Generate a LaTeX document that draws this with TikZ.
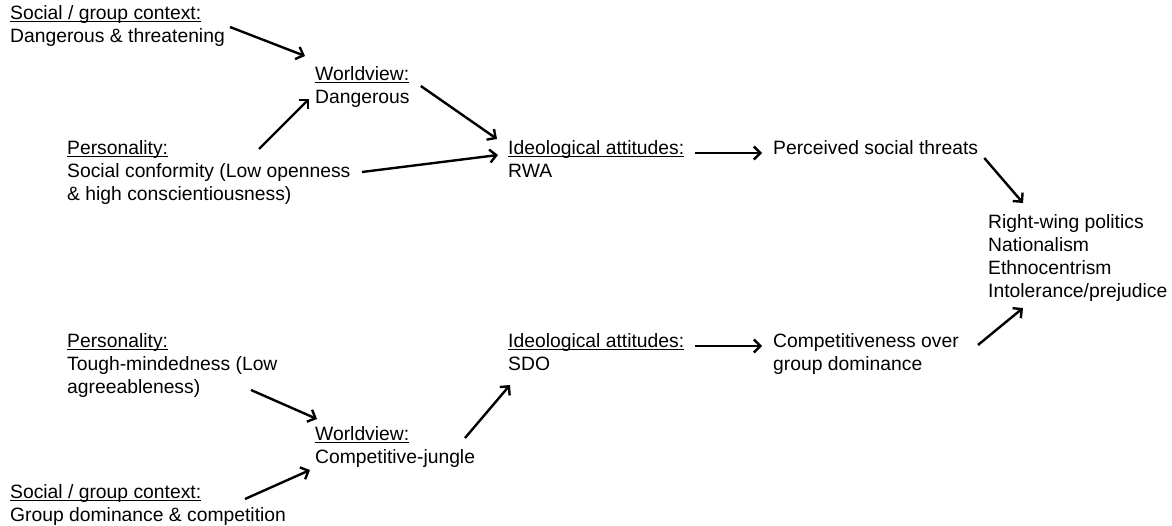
\documentclass[tikz,border=0pt]{standalone}
\usepackage{fontspec}
\setmainfont{Liberation Sans}
\newcommand\undl[1]{\setbox0=\hbox{#1}\rlap{\rule[-3pt]{\wd0}{1pt}}\box0}
\usetikzlibrary{arrows.meta,calc}
\begin{document}
\begin{tikzpicture}[x=1pt,y=-1pt,
  txt/.style={anchor=north west,inner sep=0pt,align=left,font=\fontsize{19.3}{23}\selectfont},
  arr/.style={line width=2.4pt,-{Straight Barb[length=6.5pt,width=13pt]}}]
\useasboundingbox[fill=white] (0,0) rectangle (1172,526);
\node[txt] (ctx1) at (10,5) {\undl{Social / group context:}\\Dangerous \& threatening};
\node[txt] (wv1) at (315,66) {\undl{Worldview:}\\Dangerous};
\node[txt] (pers1) at (67,140) {\undl{Personality:}\\Social conformity (Low openness\\\& high conscientiousness)};
\node[txt] (ideo1) at (508,140) {\undl{Ideological attitudes:}\\RWA};
\node[txt] (threat) at (773,140) {Perceived social threats};
\node[txt] (out) at (988,214) {Right-wing politics\\Nationalism\\Ethnocentrism\\Intolerance/prejudice};
\node[txt] (pers2) at (67,333) {\undl{Personality:}\\Tough-mindedness (Low\\agreeableness)};
\node[txt] (ideo2) at (508,333) {\undl{Ideological attitudes:}\\SDO};
\node[txt] (comp) at (773,333) {Competitiveness over\\group dominance};
\node[txt] (wv2) at (315,426) {\undl{Worldview:}\\Competitive-jungle};
\node[txt] (ctx2) at (10,484) {\undl{Social / group context:}\\Group dominance \& competition};

\draw[arr] ($(ctx1.north east)+(5,22)$) -- ($(wv1.north west)+(-10,-10)$);
\draw[arr] ($(pers1.north west)+(192,9)$) -- ($(wv1.north west)+(-6,33)$);
\draw[arr] ($(wv1.north east)+(11,20)$) -- ($(ideo1.north west)+(-11,-1)$);
\draw[arr] ($(pers1.north west)+(295,32)$) -- ($(ideo1.north west)+(-10,15)$);
\draw[arr] ($(ideo1.north east)+(11,13)$) -- ($(threat.north west)+(-11,13)$);
\draw[arr] ($(threat.north east)+(6,18)$) -- ($(out.north west)+(35,-11)$);
\draw[arr] ($(comp.north east)+(19,12)$) -- ($(out.north west)+(35,94)$);
\draw[arr] ($(ideo2.north east)+(11,13)$) -- ($(comp.north west)+(-11,13)$);
\draw[arr] ($(pers2.north west)+(184,57)$) -- ($(wv2.north west)+(2,-7)$);
\draw[arr] ($(ctx2.north west)+(235,15)$) -- ($(wv2.north west)+(-5,44)$);
\draw[arr] ($(wv2.north west)+(150,12)$) -- ($(ideo2.north west)+(2,52)$);
\end{tikzpicture}
\end{document}
